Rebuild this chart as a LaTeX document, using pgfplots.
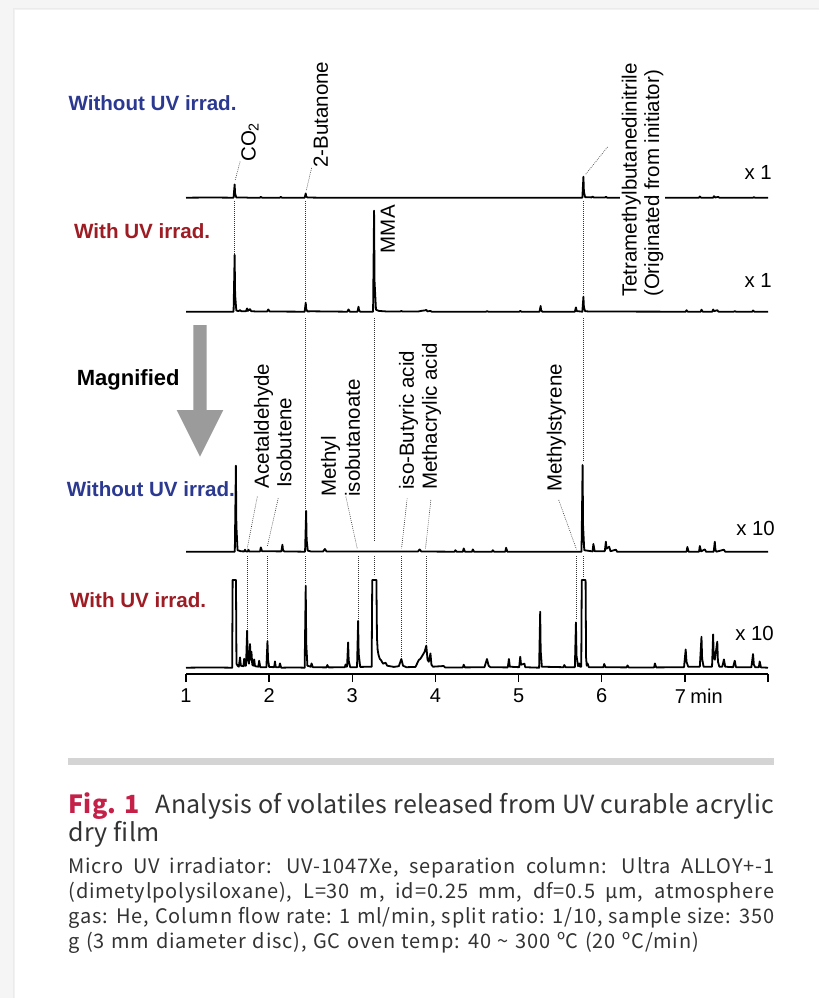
\documentclass[border=0pt]{standalone}
\usepackage{fontspec}
\setmainfont{Liberation Sans}
\newfontfamily\capfont{Noto Sans CJK JP}[LetterSpace=4, WordSpace=1.25]
\newfontfamily\titlefont{Noto Sans CJK JP}[LetterSpace=1]
\usepackage{pgfplots}
\pgfplotsset{compat=1.18}

\definecolor{uvblue}{RGB}{43,57,144}
\definecolor{uvred}{RGB}{158,28,36}
\definecolor{figred}{RGB}{196,32,72}
\definecolor{arrowgray}{RGB}{155,155,155}
\definecolor{rulegray}{RGB}{212,212,212}
\definecolor{captext}{RGB}{51,51,51}
\definecolor{pagegray}{RGB}{245,245,245}

\pgfplotsset{
  trace/.style={hide axis, scale only axis, width=582pt, height=120pt,
    xmin=1, xmax=8, ymin=0, ymax=120, clip=false, anchor=south west},
  chrom/.style={black, line width=1.8pt, line join=round, no marks},
}
\tikzset{
  lead/.style={black!80, line width=0.6pt, dash pattern=on 0.8pt off 1.2pt},
  lab/.style={inner sep=0pt, rotate=90, anchor=base west,
    font=\fontsize{20.5}{22}\selectfont},
  captxt/.style={anchor=base west, inner sep=0pt, text=captext},
}

\begin{document}
\begin{tikzpicture}
% page and card
\begin{scope}[x=1pt,y=-1pt]
  \fill[pagegray] (0,0) rectangle (819,998);
  \fill[black!8] (13,8) rectangle (819,998);
  \fill[black!5] (14,9) rectangle (819,998);
  \fill[white] (15,10) rectangle (819,998);
\end{scope}

% Without UV irradiation, x 1
\begin{axis}[trace, at={(186pt,-197.7pt)}]
\addplot[chrom] coordinates {
(1.000,0) (1.300,0.2) (1.572,0) (1.585,13.3) (1.591,4) (1.605,0.3) (1.700,0.3)
(1.750,0) (1.890,0) (1.900,0.8) (1.915,0) (2.130,0) (2.140,0.8) (2.155,0)
(2.427,0) (2.440,4.3) (2.446,1.3) (2.460,0.2) (2.600,0) (3.200,0) (4.500,0)
(5.767,0) (5.780,21) (5.786,6) (5.800,0.6) (5.880,0.3) (5.890,1.2) (5.905,0.2)
(6.040,0.2) (6.050,1.0) (6.065,0) (7.170,0) (7.180,1.2) (7.195,0) (7.340,0)
(7.350,1.5) (7.365,0.2) (7.400,0.8) (7.415,0) (7.820,0) (7.830,0.6) (7.845,0)
(8.000,0)};
\end{axis}

% With UV irradiation, x 1
\begin{axis}[trace, at={(186pt,-311.7pt)}]
\addplot[chrom] coordinates {
(1.000,0) (1.572,0) (1.585,56.7) (1.591,17) (1.605,1.2) (1.630,0.6) (1.650,1.5)
(1.665,0.5) (1.720,0.4) (1.735,3.3) (1.745,0.8) (1.770,2.5) (1.785,0.5)
(1.830,0.3) (1.975,0.2) (1.990,2.3) (2.005,0.2) (2.427,0) (2.440,9) (2.446,2.7)
(2.460,0.3) (2.510,0.4) (2.940,0) (2.955,2.3) (2.970,0) (3.062,0) (3.075,5)
(3.081,1.5) (3.095,0) (3.250,0) (3.262,101) (3.268,30) (3.285,2) (3.320,0.8)
(3.400,0.3) (3.580,0.3) (3.590,0.8) (3.600,0.3) (3.800,0.3) (3.840,1.0)
(3.870,1.2) (3.890,1.8) (3.905,0.3) (3.940,0.8) (3.955,0) (4.610,0) (4.620,0.6)
(4.635,0) (5.010,0) (5.020,0.8) (5.035,0) (5.252,0) (5.265,5.7) (5.271,1.7)
(5.285,0) (5.677,0) (5.690,4.3) (5.700,0.6) (5.767,0) (5.780,15) (5.786,4.5)
(5.800,0.5) (5.850,0.2) (7.010,0) (7.020,1.5) (7.035,0) (7.190,0) (7.200,2)
(7.215,0) (7.330,0) (7.340,2.2) (7.350,0.5) (7.390,1.5) (7.405,0) (7.590,0)
(7.600,0.6) (7.615,0) (7.810,0) (7.820,1.2) (7.835,0) (8.000,0)};
\end{axis}

% Without UV irradiation, x 10
\begin{axis}[trace, at={(186pt,-551.7pt)}]
\addplot[chrom] coordinates {
(1.000,0) (1.587,0) (1.600,86) (1.606,26) (1.620,1.5) (1.660,0.4) (1.700,0.3)
(1.710,2) (1.720,0.3) (1.745,0.3) (1.750,2) (1.760,0.3) (1.890,0.3) (1.900,4.3)
(1.915,0.5) (2.147,0.3) (2.160,7) (2.166,2) (2.180,0.3) (2.432,0) (2.445,40.7)
(2.451,12) (2.465,1) (2.500,0.3) (2.650,0.3) (2.670,2.7) (2.690,0.3) (3.790,0.2)
(3.810,2.3) (3.830,0.2) (4.230,0) (4.240,1.5) (4.255,0) (4.330,0) (4.340,3.3)
(4.355,0) (4.440,0) (4.450,2.3) (4.465,0) (4.680,0) (4.690,1.5) (4.705,0)
(4.840,0) (4.850,4) (4.865,0) (5.757,0) (5.770,86.7) (5.776,26) (5.790,1.5)
(5.890,0.3) (5.900,7.7) (5.915,0.5) (6.037,0.5) (6.050,10) (6.058,3) (6.090,5)
(6.105,0.5) (6.170,2) (6.185,0) (7.020,0) (7.030,4.7) (7.045,0) (7.170,0)
(7.180,5.7) (7.195,0.3) (7.240,2.3) (7.255,0) (7.347,0) (7.360,10) (7.368,2)
(7.380,0) (7.470,2) (7.485,0) (8.000,0)};
\end{axis}

% With UV irradiation, x 10, with the time axis and the peak annotations
\begin{axis}[scale only axis, width=582pt, height=100pt,
  xmin=1, xmax=8, ymin=-6.3, ymax=93.7, clip=false,
  anchor=south west, at={(186pt,-674pt)},
  axis x line=bottom, axis y line=none,
  axis line style={-, line width=1.3pt},
  xtick={1,2,3,4,5,6,7,8},
  xticklabels={1,2,3,4,5,6,{\makebox[0pt][c]{\hspace{-9pt}7}\rlap{\ min}},{}},
  tick align=outside, major tick length=8pt,
  xtick style={line width=1.3pt, black},
  xticklabel style={font=\fontsize{20}{20}\selectfont, text=black, yshift=-3pt}]
\addplot[chrom] coordinates {
(1.000,0) (1.300,0.3) (1.555,0) (1.561,87.7) (1.601,87.7) (1.607,4) (1.620,2)
(1.635,1) (1.650,10.3) (1.660,2) (1.690,1.5) (1.700,9) (1.710,2) (1.722,2)
(1.735,37) (1.743,10) (1.758,4) (1.770,23.7) (1.777,8) (1.787,16) (1.797,3)
(1.810,2) (1.820,8.3) (1.830,1.5) (1.870,1) (1.880,7) (1.893,0.5) (1.967,0.5)
(1.980,26.7) (1.987,8) (2.000,0.8) (2.060,0.5) (2.070,6.3) (2.080,0.5)
(2.120,0.5) (2.130,4.3) (2.145,0) (2.300,0.3) (2.427,0) (2.440,82) (2.446,25)
(2.460,2) (2.500,1) (2.510,4.3) (2.525,0.5) (2.690,0.3) (2.700,2.7) (2.715,0.3)
(2.910,0.5) (2.920,3.3) (2.930,1) (2.937,1) (2.950,25.3) (2.957,7) (2.975,0.5)
(3.057,0.5) (3.070,46.7) (3.077,14) (3.095,0.8) (3.233,1) (3.240,87.7)
(3.290,87.7) (3.297,30) (3.305,18) (3.315,13) (3.330,9) (3.350,7) (3.370,4)
(3.400,5) (3.420,2) (3.500,0.8) (3.560,1.5) (3.590,8.7) (3.610,2) (3.650,0.5)
(3.760,0.8) (3.800,7.7) (3.820,9) (3.840,11.7) (3.870,16) (3.890,22) (3.905,8)
(3.920,6) (3.940,14.3) (3.952,3) (3.970,1) (4.100,1.7) (4.115,0.3) (4.330,0.3)
(4.340,3) (4.355,0.3) (4.590,0.5) (4.620,8.7) (4.640,2) (4.660,0.5) (4.870,0.3)
(4.884,8.7) (4.895,1) (5.007,0.5) (5.020,11) (5.030,3) (5.070,4) (5.080,0.5)
(5.247,0) (5.260,56) (5.266,17) (5.280,1) (5.540,0.5) (5.550,2.7) (5.565,0.5)
(5.677,0.5) (5.690,45.3) (5.697,12) (5.715,1.5) (5.730,4.3) (5.740,1)
(5.754,1) (5.760,87.7) (5.806,87.7) (5.812,10) (5.820,2) (5.830,4.3) (5.845,0.5)
(6.020,0.5) (6.030,3.7) (6.045,0.5) (6.300,0.3) (6.310,2.3) (6.325,0.3)
(6.630,0.3) (6.640,4.3) (6.655,0.3) (6.990,0.5) (7.010,18.3) (7.020,6)
(7.040,1) (7.180,1) (7.200,31) (7.208,9) (7.225,1) (7.327,1) (7.340,33.3)
(7.348,10) (7.360,8) (7.390,26) (7.398,6) (7.415,1) (7.450,1) (7.470,8.3)
(7.485,1) (7.580,0.5) (7.600,7) (7.615,0.5) (7.800,0.5) (7.820,13.7) (7.830,3)
(7.845,0.5) (7.890,0.5) (7.900,6.3) (7.915,0.3) (8.000,0)};

% dotted guides linking the same compound across the traces
\draw[lead] (1.585,466.7) -- (1.585,412.7);
\draw[lead] (2.440,466.7) -- (2.440,366.7);
\draw[lead] (2.440,349.7) -- (2.440,157.7);
\draw[lead] (2.440,111.7) -- (2.440,83.7);
\draw[lead] (3.262,349.7) -- (3.262,126.7);
\draw[lead] (3.262,111.7) -- (3.262,91.7);
\draw[lead] (5.780,466.7) -- (5.780,372.7);
\draw[lead] (5.780,349.7) -- (5.780,206.7);
\draw[lead] (5.780,111.7) -- (5.780,89.7);
\draw[lead] (1.735,111.7) -- (1.735,38.7);
\draw[lead] (1.980,111.7) -- (1.980,28.7);
\draw[lead] (3.070,111.7) -- (3.070,48.7);
\draw[lead] (3.590,111.7) -- (3.590,10.7);
\draw[lead] (3.890,111.7) -- (3.890,23.7);
\draw[lead] (5.690,111.7) -- (5.690,47.7);
% leaders from the labels
\draw[lead] (1.650,506.0) -- (1.592,487.7);
\draw[lead] (2.510,499.7) -- (2.445,476.7);
\draw[lead] (6.070,520.7) -- (5.800,492.7);
\draw[lead] (1.857,171.0) -- (1.737,119.4);
\draw[lead] (2.109,169.4) -- (1.977,121.0);
\draw[lead] (2.923,171.0) -- (3.059,119.4);
\draw[lead] (3.660,169.4) -- (3.593,119.4);
\draw[lead] (3.945,167.7) -- (3.881,119.4);
\draw[lead] (5.483,167.7) -- (5.696,118.4);
% compound names
\node[lab] at (1.836,505.7) {CO\textsubscript{2}};
\node[lab] at (2.707,499.7) {2-Butanone};
\node[lab] at (3.512,414.4) {MMA};
\node[lab, fill=white, inner ysep=2pt] at (6.420,370.7) {Tetramethylbutanedinitrile};
\node[lab, fill=white, inner ysep=2pt] at (6.690,370.7) {(Originated from initiator)};
\node[lab] at (1.998,179.4) {Acetaldehyde};
\node[lab] at (2.268,179.7) {Isobutene};
\node[lab] at (2.803,170.7) {Methyl};
\node[lab] at (3.091,170.7) {isobutanoate};
\node[lab] at (3.740,177.7) {iso-Butyric acid};
\node[lab] at (4.017,177.7) {Methacrylic acid};
\node[lab] at (5.519,175.7) {Methylstyrene};
\end{axis}

\begin{scope}[x=1pt,y=-1pt]
  % trace captions
  \tikzset{cond/.style={anchor=base west, inner sep=0pt,
      font=\bfseries\fontsize{20.6}{24}\selectfont}}
  \node[cond, text=uvblue] at (68.3,110) {Without UV irrad.};
  \node[cond, text=uvred] at (74,238.3) {With UV irrad.};
  \node[cond, text=uvblue] at (66.7,496.7) {Without UV irrad.};
  \node[cond, text=uvred] at (70,607.3) {With UV irrad.};
  \node[anchor=base west, inner sep=0pt, font=\bfseries\fontsize{22}{24}\selectfont]
    at (76.7,385) {Magnified};
  \fill[arrowgray] (193.3,325) -- (206.7,325) -- (206.7,410) -- (223.3,410)
    -- (200,456.7) -- (176.7,410) -- (193.3,410) -- cycle;
  % magnifications
  \tikzset{mag/.style={anchor=base east, inner sep=0pt,
      font=\fontsize{20.4}{22}\selectfont}}
  \node[mag] at (772,179.5) {x 1};
  \node[mag] at (772,287.3) {x 1};
  \node[mag] at (775,535) {x 10};
  \node[mag] at (774,640) {x 10};
  % caption
  \fill[rulegray] (68.3,758.3) rectangle (774,765);
  \node[captxt] at (68.3,813.3) {\titlefont\fontsize{25}{28}\selectfont
    \hbox to 705.7pt{\textbf{\color{figred}Fig. 1}\hspace{0.4em} Analysis of volatiles released from UV curable acrylic}};
  \node[captxt] at (68.3,841.7) {\titlefont\fontsize{25}{28}\selectfont dry film};
  \node[captxt] at (68.3,873.3) {\capfont\fontsize{20}{25}\selectfont
    \hbox to 705.7pt{Micro UV irradiator: UV-1047Xe, separation column: Ultra ALLOY+-1}};
  \node[captxt] at (68.3,898.3) {\capfont\fontsize{20}{25}\selectfont
    \hbox to 705.7pt{(dimetylpolysiloxane), L=30 m, id=0.25 mm, df=0.5 µm, atmosphere}};
  \node[captxt] at (68.3,923.3) {\capfont\fontsize{20}{25}\selectfont
    \hbox to 705.7pt{gas: He, Column flow rate: 1 ml/min, split ratio: 1/10, sample size: 350}};
  \node[captxt] at (68.3,948.3) {\capfont\fontsize{20}{25}\selectfont
    g (3 mm diameter disc), GC oven temp: 40 \textasciitilde{} 300 ºC (20 ºC/min)};
\end{scope}
\pgfresetboundingbox
\path[use as bounding box] (0pt,0pt) rectangle (819pt,-998pt);
\end{tikzpicture}
\end{document}
